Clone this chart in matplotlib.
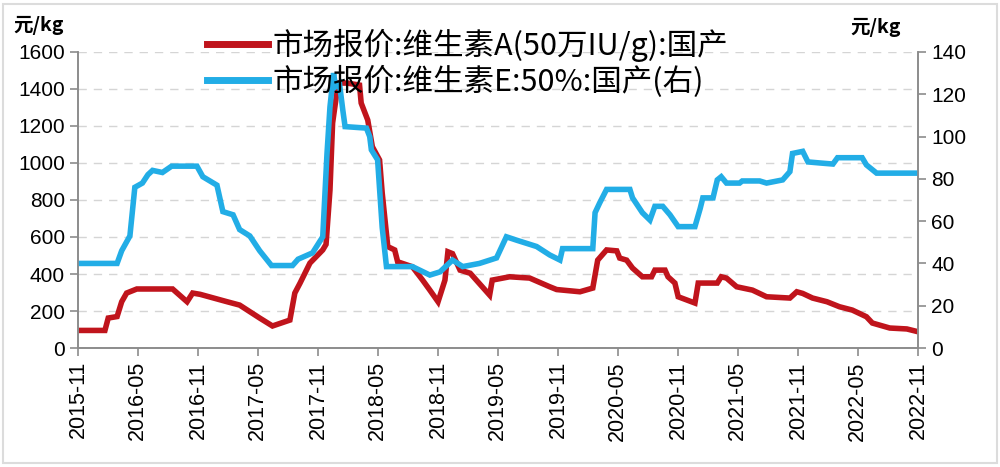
import matplotlib.pyplot as plt
import matplotlib.dates as mdates
from matplotlib.patches import Rectangle
import pandas as pd

# 市场报价:维生素A(50万IU/g):国产, 元/kg (left axis)
va_dates = ["2015-11-07", "2016-01-22", "2016-02-01", "2016-02-28", "2016-03-13", "2016-03-28",
            "2016-04-28", "2016-08-15", "2016-09-28", "2016-10-15", "2016-11-07", "2017-01-28",
            "2017-03-07", "2017-05-07", "2017-06-15", "2017-08-07", "2017-08-22", "2017-09-07",
            "2017-10-07", "2017-11-15", "2017-11-25", "2017-12-07", "2017-12-15", "2018-01-01",
            "2018-01-28", "2018-03-07", "2018-03-12", "2018-04-01", "2018-04-15", "2018-05-07",
            "2018-05-15", "2018-06-01", "2018-06-22", "2018-07-01", "2018-08-15", "2018-09-15",
            "2018-10-07", "2018-11-01", "2018-11-22", "2018-12-01", "2018-12-15", "2019-01-07",
            "2019-02-07", "2019-04-07", "2019-04-15", "2019-06-07", "2019-08-07", "2019-10-07",
            "2019-10-28", "2020-01-07", "2020-02-15", "2020-03-01", "2020-03-28", "2020-04-28",
            "2020-05-07", "2020-05-28", "2020-06-15", "2020-07-15", "2020-08-12", "2020-08-22",
            "2020-09-22", "2020-10-01", "2020-10-22", "2020-11-01", "2020-12-22", "2021-01-01",
            "2021-02-28", "2021-03-12", "2021-03-28", "2021-04-28", "2021-06-15", "2021-07-28",
            "2021-10-07", "2021-10-28", "2021-11-15", "2021-12-15", "2022-01-28", "2022-03-07",
            "2022-04-15", "2022-05-28", "2022-06-15", "2022-08-07", "2022-09-28", "2022-11-01"]
va_values = [95, 95, 162, 170, 250, 297,
             319, 319, 250, 297, 290, 250,
             232, 162, 119, 151, 297, 351,
             459, 530, 560, 854, 1216, 1432,
             1432, 1421, 1324, 1232, 1088, 1016,
             838, 548, 530, 466, 439, 367,
             313, 250, 367, 520, 510, 421,
             404, 286, 367, 385, 378, 331,
             316, 304, 324, 475, 530, 525,
             486, 475, 432, 385, 385, 421,
             421, 385, 351, 277, 243, 351,
             351, 385, 378, 331, 313, 277,
             270, 304, 295, 270, 250, 223,
             205, 169, 135, 108, 103, 88]

# 市场报价:维生素E:50%:国产, 元/kg (right axis)
ve_dates = ["2015-11-07", "2016-02-28", "2016-03-13", "2016-04-07", "2016-04-22", "2016-05-15",
            "2016-06-01", "2016-06-15", "2016-07-15", "2016-08-12", "2016-10-28", "2016-11-15",
            "2016-12-28", "2017-01-15", "2017-02-15", "2017-03-07", "2017-04-07", "2017-05-07",
            "2017-06-12", "2017-08-15", "2017-09-01", "2017-10-15", "2017-11-15", "2017-11-28",
            "2017-12-07", "2017-12-18", "2017-12-24", "2018-01-05", "2018-01-15", "2018-01-22",
            "2018-03-28", "2018-04-07", "2018-04-12", "2018-05-01", "2018-05-15", "2018-05-28",
            "2018-08-15", "2018-10-07", "2018-11-07", "2018-12-15", "2019-01-15", "2019-03-07",
            "2019-04-28", "2019-05-28", "2019-06-28", "2019-08-28", "2019-10-07", "2019-11-07",
            "2019-11-15", "2020-02-15", "2020-02-22", "2020-03-07", "2020-03-28", "2020-06-07",
            "2020-06-15", "2020-07-15", "2020-08-07", "2020-08-22", "2020-09-15", "2020-10-07",
            "2020-11-01", "2020-12-22", "2021-01-07", "2021-01-15", "2021-02-15", "2021-02-28",
            "2021-03-12", "2021-03-28", "2021-05-07", "2021-05-15", "2021-07-07", "2021-07-28",
            "2021-09-15", "2021-10-07", "2021-10-15", "2021-11-15", "2021-12-01", "2022-01-07",
            "2022-02-15", "2022-03-01", "2022-05-15", "2022-05-28", "2022-06-28", "2022-11-01"]
ve_values = [40, 40, 46, 53, 76, 78,
             82, 84, 83, 86, 86, 81,
             77, 64.5, 63, 56, 53, 46,
             39, 39, 42, 45, 52.6, 92,
             114, 130, 123.6, 125, 112.6, 104.7,
             104, 100, 93.7, 89, 57, 38.5,
             38.5, 34.5, 36, 41.6, 38.5, 40,
             42.6, 52.6, 51, 48, 44, 41.6,
             47, 47, 64, 68.6, 75, 75,
             71, 64, 60.5, 67, 67, 63,
             57.4, 57.4, 66, 71, 71, 79.5,
             81, 78, 78, 79, 79, 78,
             79.5, 83.4, 92, 93, 88, 87.5,
             87, 90, 90, 86.6, 82.7, 82.7]

va_label = "市场报价:维生素A(50万IU/g):国产"
ve_label = "市场报价:维生素E:50%:国产(右)"

tick_font = ["Liberation Sans", "DejaVu Sans"]
cjk_font = ["Noto Sans CJK SC", "DejaVu Sans"]
axis_color = "#8c8c8c"

fig = plt.figure(figsize=(10, 4.67), dpi=100)
ax = fig.add_axes([0.078, 0.2548, 0.84, 0.6339])
ax2 = ax.twinx()

red = "#c0141c"
blue = "#22ade6"
l1, = ax.plot(pd.to_datetime(va_dates), va_values, color=red, lw=4, solid_joinstyle="miter", label=va_label)
l2, = ax2.plot(pd.to_datetime(ve_dates), ve_values, color=blue, lw=4, solid_joinstyle="miter", label=ve_label)

ax.set_xlim(pd.Timestamp("2015-11-01"), pd.Timestamp("2022-11-01"))
ax.set_ylim(0, 1600)
ax2.set_ylim(0, 140)
ax.set_yticks(range(0, 1601, 200))
ax2.set_yticks(range(0, 141, 20))

ax.xaxis.set_major_locator(mdates.MonthLocator(bymonth=[5, 11]))
ax.xaxis.set_major_formatter(mdates.DateFormatter("%Y-%m"))

for a in (ax, ax2):
    a.spines["top"].set_visible(False)
    for s in ("left", "right", "bottom"):
        a.spines[s].set_color(axis_color)
        a.spines[s].set_linewidth(1.2)
    a.tick_params(color=axis_color, length=6, width=1.2)

ax.grid(axis="y", linestyle=(0, (6, 5)), color="#d5d5d5", lw=1)
ax.set_axisbelow(True)

for t in ax.get_yticklabels() + ax2.get_yticklabels():
    t.set_fontfamily(tick_font)
    t.set_fontsize(15)
for t in ax.get_xticklabels():
    t.set_fontfamily(tick_font)
    t.set_fontsize(15.5)
    t.set_rotation(90)

fig.text(0.013, 0.925, "元/kg", fontfamily=cjk_font, fontsize=14, fontweight="bold", va="bottom")
fig.text(0.850, 0.920, "元/kg", fontfamily=cjk_font, fontsize=14, fontweight="bold", va="bottom")

leg = fig.legend(handles=[l1, l2], loc="upper left", bbox_to_anchor=(0.207, 0.938),
                 frameon=False, prop={"family": cjk_font, "size": 22},
                 handlelength=2.0, handletextpad=0.15, labelspacing=0.12, borderpad=0.0,
                 borderaxespad=0.0)
for h in leg.get_lines():
    h.set_linewidth(5)

fig.patches.append(Rectangle((0.003, 0.008), 0.994, 0.984, transform=fig.transFigure,
                             fill=False, edgecolor="#dcdcdc", lw=1.5))

fig.savefig("out.png", dpi=100)
